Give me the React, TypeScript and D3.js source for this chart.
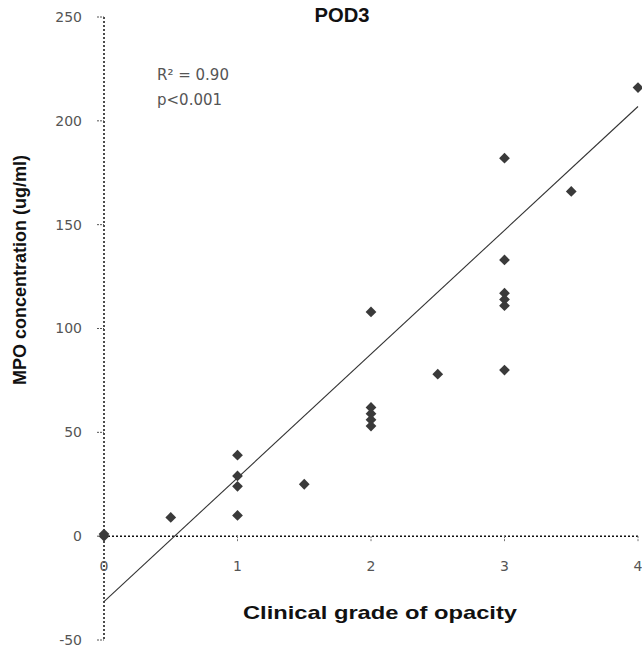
import React from "react";
import * as d3 from "d3";

const grades = [0, 0, 0.5, 1, 1, 1, 1, 1.5, 2, 2, 2, 2, 2, 2.5, 3, 3, 3, 3, 3, 3, 3.5, 4];
const mpo = [0, 1, 9, 39, 29, 24, 10, 25, 108, 62, 59, 56, 53, 78, 182, 133, 117, 114, 111, 80, 166, 216];
const trendCoef = [-31.5, 59.6]; // intercept, slope
const yTicks = [-50, 0, 50, 100, 150, 200, 250];
const xTicks = [0, 1, 2, 3, 4];
const title = "POD3";
const xLabel = "Clinical grade of opacity";
const yLabel = "MPO concentration (ug/ml)";
const statLines = ["R² = 0.90", "p<0.001"];

const W = 642;
const H = 653;

export default function App() {
  const x = d3.scaleLinear().domain([0, 4]).range([104, 638]);
  const y = d3.scaleLinear().domain([-50, 250]).range([640, 17]);
  const diamond = d3.symbol().type(d3.symbolSquare).size(58)();
  const trend = d3.line<number>()
    .x((d) => x(d))
    .y((d) => y(trendCoef[0] + trendCoef[1] * d));
  const font = "'Liberation Sans', Arial, sans-serif";
  const tickFont = "'DejaVu Sans', sans-serif";

  return (
    <div style={{ position: "absolute", left: 0, top: 0 }}>
      <svg width={W} height={H} style={{ display: "block", background: "#fff" }}>
        {/* Y axis */}
        <line x1={x(0)} x2={x(0)} y1={y(250)} y2={y(-50)} stroke="#111" strokeWidth={1.5} strokeDasharray="2,2" />
        {yTicks.map((t) => (
          <g key={"y" + t}>
            <line x1={x(0) - 7} x2={x(0)} y1={y(t)} y2={y(t)} stroke="#555" strokeWidth={1} strokeDasharray="2,1" />
            <text x={82} y={y(t)} dy="0.35em" textAnchor="end" fontFamily={tickFont} fontSize={14} fill="#555">
              {t}
            </text>
          </g>
        ))}
        {/* X axis at y=0 */}
        <line x1={x(0)} x2={x(4)} y1={y(0)} y2={y(0)} stroke="#111" strokeWidth={1.5} strokeDasharray="2,2" />
        {xTicks.map((t) => (
          <g key={"x" + t}>
            <line x1={x(t)} x2={x(t)} y1={y(0)} y2={y(0) + 6} stroke="#777" strokeWidth={1} strokeDasharray="2,1" />
            <text x={x(t)} y={566} dy="0.35em" textAnchor="middle" fontFamily={tickFont} fontSize={14} fill="#555">
              {t}
            </text>
          </g>
        ))}
        {/* trend line */}
        <path d={trend([0, 4]) || ""} fill="none" stroke="#333" strokeWidth={1.1} />
        {/* points */}
        {grades.map((g, i) => (
          <path
            key={"p" + i}
            d={diamond || ""}
            transform={`translate(${x(g)},${y(mpo[i])}) rotate(45)`}
            fill="#3a3a3a"
          />
        ))}
        {/* stats */}
        {statLines.map((s, i) => (
          <text key={"s" + i} x={157} y={75 + i * 25} dy="0.35em" fontFamily={tickFont} fontSize={15} fill="#555">
            {s}
          </text>
        ))}
        {/* title */}
        <text x={342} y={15} dy="0.35em" textAnchor="middle" fontFamily={font} fontSize={20} fontWeight="bold" fill="#111"
          textLength={55} lengthAdjust="spacingAndGlyphs">
          {title}
        </text>
        {/* x label */}
        <text x={380} y={612} dy="0.35em" textAnchor="middle" fontFamily={font} fontSize={19} fontWeight="bold" fill="#111"
          textLength={274} lengthAdjust="spacingAndGlyphs">
          {xLabel}
        </text>
        {/* y label */}
        <text
          transform={`translate(20,270) rotate(-90)`}
          dy="0.35em"
          textAnchor="middle"
          fontFamily={font}
          fontSize={18}
          fontWeight="bold"
          fill="#111"
          textLength={230}
          lengthAdjust="spacingAndGlyphs"
        >
          {yLabel}
        </text>
      </svg>
    </div>
  );
}
